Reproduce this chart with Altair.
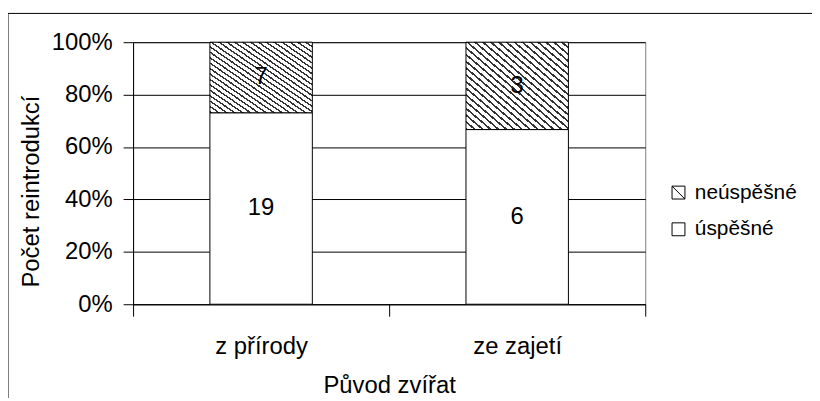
import altair as alt
import pandas as pd

# ---- data ----
origins = ["z přírody", "ze zajetí"]
success = [19, 6]      # úspěšné
failure = [7, 3]       # neúspěšné
statuses = ["neúspěšné", "úspěšné"]

rows = []
for o, s, f in zip(origins, success, failure):
    rows.append({"origin": o, "status": "úspěšné", "count": s})
    rows.append({"origin": o, "status": "neúspěšné", "count": f})
df = pd.DataFrame(rows)

FONT = "Liberation Sans"

# diagonal hatch imitation via a striped linear gradient
N = 26
frac = 0.32
stops = []
for i in range(N):
    a = i / N
    m = (i + frac) / N
    b = (i + 1) / N
    stops += [
        {"offset": a, "color": "#333333"},
        {"offset": m, "color": "#333333"},
        {"offset": m, "color": "#ffffff"},
        {"offset": b, "color": "#ffffff"},
    ]
hatch = {"gradient": "linear", "x1": 0, "y1": 1, "x2": 1, "y2": 0, "stops": stops}

sq_diag = "M-1,-1L1,-1L1,1L-1,1Z M-1,-1L1,1"
sq = "M-1,-1L1,-1L1,1L-1,1Z"

base = alt.Chart(df).transform_calculate(
    order="datum.status == 'úspěšné' ? 0 : 1"
).transform_stack(
    stack="count",
    groupby=["origin"],
    as_=["y0", "y1"],
    offset="normalize",
    sort=[alt.SortField("order", order="ascending")],
).transform_calculate(mid="(datum.y0 + datum.y1) / 2")

x_enc = alt.X(
    "origin:N",
    sort=origins,
    scale=alt.Scale(paddingInner=0, paddingOuter=0),
    axis=alt.Axis(
        title="Původ zvířat",
        labelAngle=0,
        labelFontSize=24,
        labelColor="black",
        labelPadding=19,
        tickBand="extent",
        tickSize=12,
        tickColor="black",
        domainColor="black",
        grid=False,
        titleFontSize=24,
        titleFontWeight="normal",
        titleColor="black",
        titleBaseline="alphabetic",
        titleY=89,
    ),
)

bars = base.mark_bar(
    width=alt.RelativeBandSize(0.4), stroke="black", strokeWidth=1
).encode(
    x=x_enc,
    y=alt.Y(
        "y0:Q",
        scale=alt.Scale(domain=[0, 1]),
        axis=alt.Axis(
            title="Počet reintrodukcí",
            format="%",
            values=[0, 0.2, 0.4, 0.6, 0.8, 1.0],
            labelFontSize=24,
            labelColor="black",
            labelPadding=11,
            tickSize=10,
            tickColor="black",
            domainColor="black",
            gridColor="black",
            gridWidth=1,
            titleFontSize=24,
            titleFontWeight="normal",
            titleColor="black",
            titleAngle=270,
            titleBaseline="middle",
            titleX=-102,
            titleY=150,
        ),
    ),
    y2="y1:Q",
    fill=alt.condition(
        alt.datum.status == "neúspěšné", alt.value(hatch), alt.value("white")
    ),
)

labels = base.mark_text(fontSize=24, color="black", baseline="middle").encode(
    x=alt.X("origin:N", sort=origins),
    y=alt.Y("mid:Q"),
    text="count:Q",
)

legend_pts = base.mark_point(color="black", filled=False, strokeWidth=1).encode(
    x=alt.X("origin:N", sort=origins),
    y=alt.Y("mid:Q"),
    opacity=alt.value(0),
    shape=alt.Shape(
        "status:N",
        scale=alt.Scale(domain=statuses, range=[sq_diag, sq]),
        legend=alt.Legend(
            title=None,
            orient="none",
            legendX=539,
            legendY=141,
            labelFontSize=21,
            labelColor="black",
            labelOffset=6,
            symbolSize=169,
            symbolOpacity=1,
            symbolStrokeWidth=1,
            symbolStrokeColor="black",
            symbolFillColor="white",
            rowPadding=15,
        ),
    ),
)

frame = alt.Chart(alt.Data(values=[{}])).mark_rect(
    fill=None, stroke="black", strokeWidth=1
).encode(
    x=alt.value(-126), x2=alt.value(720), y=alt.value(-29), y2=alt.value(500)
)

chart = alt.layer(frame, bars, labels, legend_pts).properties(
    width=516,
    height=264,
    padding={"left": 126, "top": 33, "right": 168, "bottom": 93},
    autosize=alt.AutoSizeParams(type="none"),
    background="white",
).configure(
    font=FONT,
).configure_view(
    stroke="#808080", strokeWidth=1
)

chart.save("out.html", embed_options={"renderer": "svg", "actions": False})
